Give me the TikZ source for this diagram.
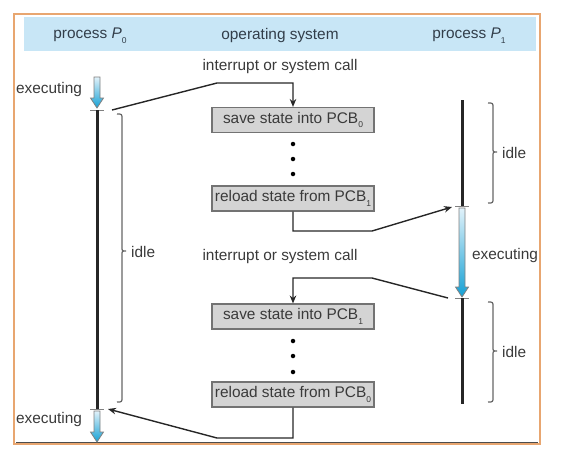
\documentclass[tikz,border=0pt]{standalone}
\usepackage{fontspec}
\setmainfont{Liberation Sans}
\usetikzlibrary{arrows.meta}
\definecolor{frameor}{RGB}{232,166,112}
\definecolor{hdrblue}{RGB}{200,230,246}
\definecolor{txt}{RGB}{58,58,58}
\definecolor{hdrtxt}{RGB}{50,62,74}
\definecolor{boxfill}{RGB}{212,212,212}
\definecolor{boxline}{RGB}{115,115,115}
\definecolor{arrblue}{RGB}{20,160,212}
\definecolor{arrtop}{RGB}{225,242,250}
\newcommand\subs[1]{\raisebox{-0.3em}{\fontsize{8.5}{8.5}\selectfont #1}}
\newcommand\blarrow[3]{%
  \shade[top color=arrtop,bottom color=arrblue,draw=gray,line width=0.8pt]
    (#1-3,#2) -- (#1+3,#2) -- (#1+3,#3-10) -- (#1+6.5,#3-10) -- (#1,#3)
    -- (#1-6.5,#3-10) -- (#1-3,#3-10) -- cycle;}
\newcommand\bracepath[4]{%
  \draw[bracestyle] (#1,#2) .. controls (#1+5,#2) .. (#1+5,#2+5)
    -- (#1+5,#3-4) .. controls (#1+5,#3) .. (#1+9,#3)
    .. controls (#1+5,#3) .. (#1+5,#3+4)
    -- (#1+5,#4-5) .. controls (#1+5,#4) .. (#1,#4);}
\begin{document}
\begin{tikzpicture}[x=1pt,y=-1pt,
  lbl/.style={text=txt,font=\fontsize{15.4}{18}\selectfont,inner sep=0pt},
  hdr/.style={text=hdrtxt,font=\fontsize{15.4}{18}\selectfont,inner sep=0pt},
  osbox/.style={draw=boxline,fill=boxfill,line width=1.1pt,minimum width=162pt,
    minimum height=25pt,inner sep=0pt,text=txt,font=\fontsize{15.4}{18}\selectfont},
  conn/.style={draw=black!85,line width=1.4pt},
  arrowhd/.style={-{Stealth[length=8pt,width=6.5pt]}},
  proc/.style={draw=black!85,line width=3pt},
  tickln/.style={draw=gray,line width=1pt},
  bracestyle/.style={draw=gray!80!black,line width=1.2pt},
  dotn/.style={circle,fill=black,inner sep=0pt,minimum size=4.5pt}
]
\useasboundingbox (0,0) rectangle (564,456);
% frame and header
\draw[frameor,line width=2.8pt] (14,14) rectangle (540,444);
\draw[black!70,line width=1pt] (16,442.5) -- (538,442.5);
\fill[hdrblue] (24,17) rectangle (536,51);
\node[hdr] (h0) at (90,36) {process \textit{P}\subs{0}};
\node[hdr] (hos) at (280,36) {operating system};
\node[hdr] (h1) at (469,36) {process \textit{P}\subs{1}};
% labels
\node[lbl] (int1) at (280,67) {interrupt or system call};
\node[lbl] (int2) at (280,257) {interrupt or system call};
\node[lbl] (ex0a) at (49,90) {executing};
\node[lbl] (ex0b) at (49,420) {executing};
\node[lbl] (ex1) at (505,256) {executing};
\node[lbl,anchor=west] (idle0) at (131,252) {idle};
\node[lbl,anchor=west] (idle1a) at (502,153) {idle};
\node[lbl,anchor=west] (idle1b) at (502,352) {idle};
% process P0 timeline
\blarrow{97}{77}{108}
\draw[tickln] (90,110) -- (104,110);
\draw[proc] (97,110) -- (97,409);
\draw[tickln] (90,409) -- (104,409);
\blarrow{97}{411}{442}
\bracepath{117}{114}{251}{402}
% process P1 timeline
\draw[proc] (462,100) -- (462,206);
\draw[tickln] (455,206) -- (469,206);
\blarrow{462}{208}{297}
\draw[tickln] (455,298) -- (469,298);
\draw[proc] (462,298) -- (462,404);
\bracepath{488}{103}{152}{203}
\bracepath{488}{302}{351}{402}
% OS boxes
\node[osbox] (save0) at (293,120) {save state into PCB\subs{0}};
\node[osbox] (reload1) at (293,198.5) {reload state from PCB\subs{1}};
\node[osbox] (save1) at (293,316.5) {save state into PCB\subs{1}};
\node[osbox] (reload0) at (293,394.5) {reload state from PCB\subs{0}};
\node[dotn] (d1) at (293,144) {};
\node[dotn] (d2) at (293,159) {};
\node[dotn] (d3) at (293,174) {};
\node[dotn] (d4) at (293,341) {};
\node[dotn] (d5) at (293,356) {};
\node[dotn] (d6) at (293,372) {};
% connectors
\coordinate (p0out) at (112,110);
\coordinate (k1) at (217,83);
\draw[conn,arrowhd] (p0out) -- (k1) -- (k1 -| save0.north) -- (save0.north);
\coordinate (k2) at (372,231);
\coordinate (p1in) at (452,207);
\draw[conn,arrowhd] (reload1.south) -- (reload1.south |- k2) -- (k2) -- (p1in);
\coordinate (p1out) at (448,298);
\coordinate (k3) at (372,278);
\draw[conn,arrowhd] (p1out) -- (k3) -- (k3 -| save1.north) -- (save1.north);
\coordinate (k4) at (217,438);
\coordinate (p0in) at (108,409);
\draw[conn,arrowhd] (reload0.south) -- (reload0.south |- k4) -- (k4) -- (p0in);
\end{tikzpicture}
\end{document}
